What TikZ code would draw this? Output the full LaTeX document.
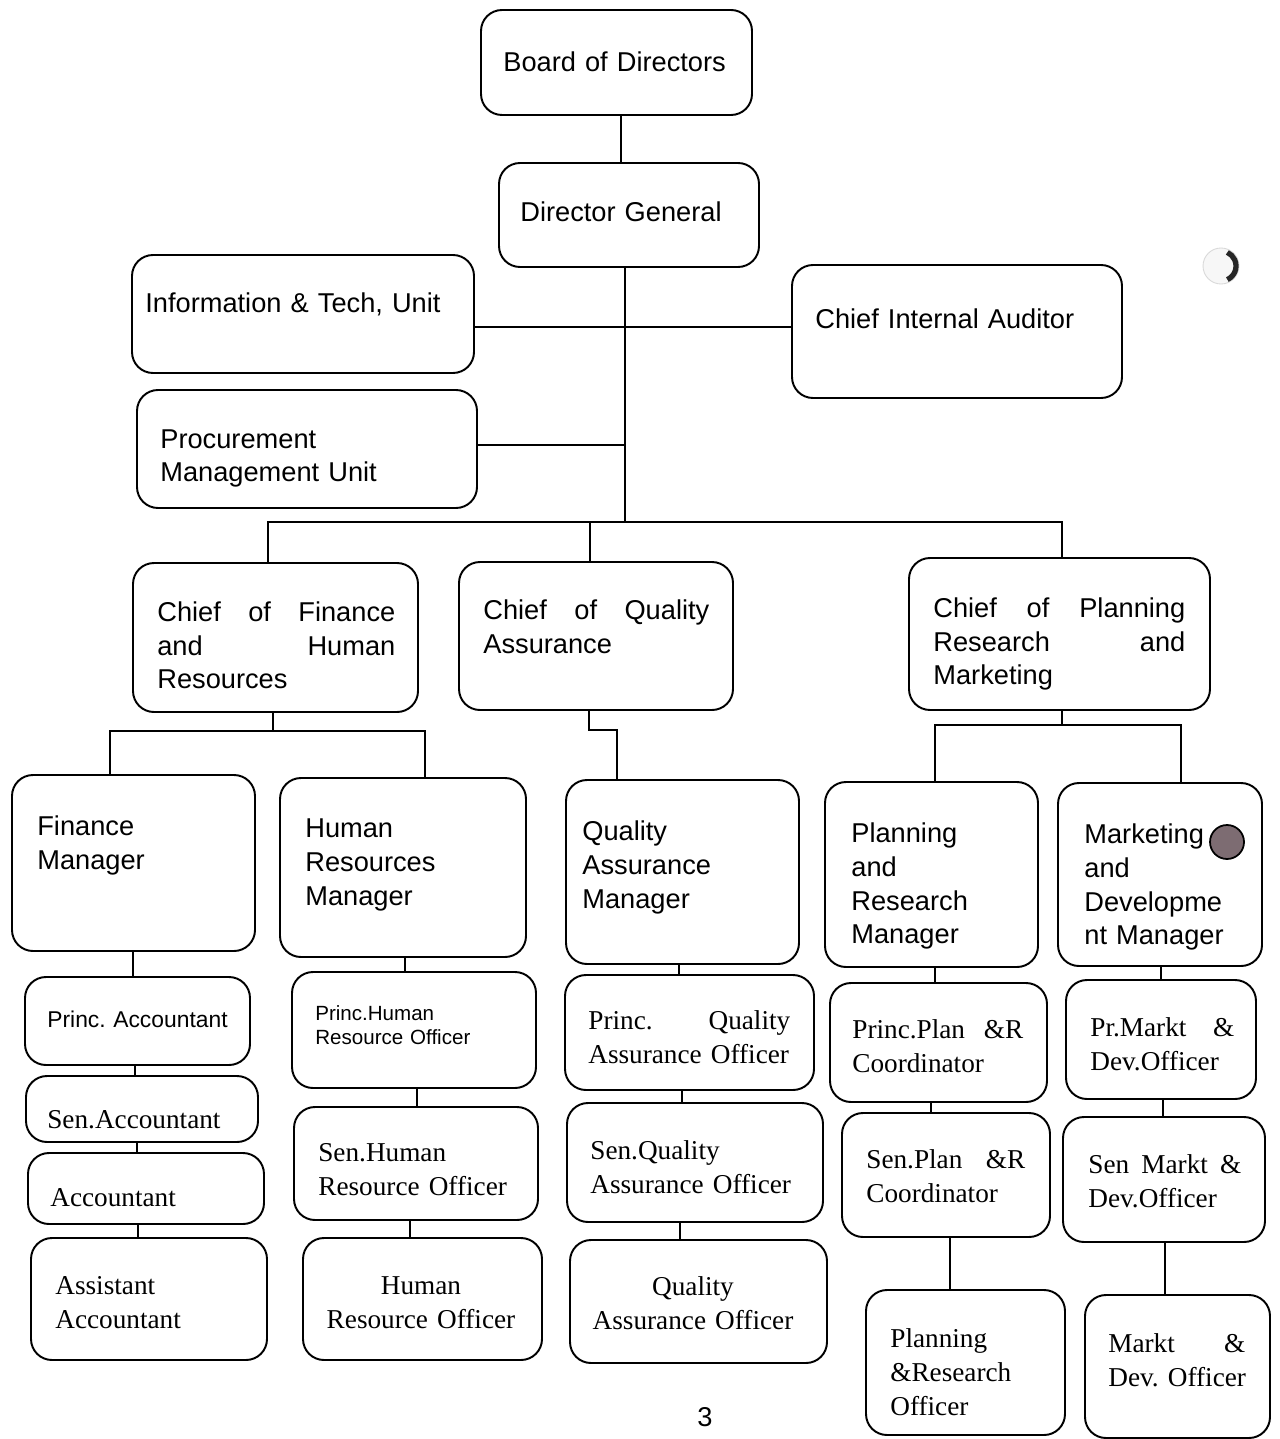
\documentclass[tikz,border=0pt]{standalone}
\usepackage{fontspec}
\setmainfont{Liberation Serif}
\setsansfont{Liberation Sans}
\usetikzlibrary{fit}
\newcommand\jst[2]{\leavevmode\hbox to #1{#2}}
\frenchspacing
\begin{document}
\frenchspacing
\begin{tikzpicture}[x=0.02cm,y=-0.02cm,
  box/.style={draw, line width=1.1pt, rounded corners=0.42cm, inner sep=0pt},
  con/.style={line width=1.1pt},
  sfl/.style={font=\sffamily\fontsize{15.5}{19.35}\selectfont, inner sep=0pt, anchor=base west, align=left, text width=6cm},
  rml/.style={font=\rmfamily\fontsize{15.5}{19.35}\selectfont, inner sep=0pt, anchor=base west, align=left, text width=6cm},
  sfs/.style={font=\sffamily\fontsize{11.7}{14.2}\selectfont, inner sep=0pt, anchor=base west, align=left, text width=6cm},
  sfm/.style={font=\sffamily\fontsize{13}{16}\selectfont, inner sep=0pt, anchor=base west, align=left, text width=6cm},
]
\useasboundingbox[fill=white] (0,0) rectangle (1279,1439);

% ---------- boxes ----------
\node[box, fit={(481,10) (752,115)}] (bod) {};
\node[box, fit={(499,163) (759,267)}] (dg) {};
\node[box, fit={(132,255) (474,373)}] (itu) {};
\node[box, fit={(792,265) (1122,398)}] (cia) {};
\node[box, fit={(137,390) (477,508)}] (pmu) {};
\node[box, fit={(133,563) (418,712)}] (cfhr) {};
\node[box, fit={(459,562) (733,710)}] (cqa) {};
\node[box, fit={(909,558) (1210,710)}] (cprm) {};
\node[box, fit={(12,775) (255,951)}] (fm) {};
\node[box, fit={(280,778) (526,957)}] (hrm) {};
\node[box, fit={(566,780) (799,964)}] (qam) {};
\node[box, fit={(825,782) (1038,967)}] (prm) {};
\node[box, fit={(1058,783) (1262,966)}] (mdm) {};
% finance column
\node[box, fit={(25,977) (250,1065)}] (pa) {};
\node[box, fit={(26,1076) (258,1142)}] (sa) {};
\node[box, fit={(28,1153) (264,1224)}] (acc) {};
\node[box, fit={(31,1238) (267,1360)}] (aa) {};
% HR column
\node[box, fit={(292,972) (536,1088)}] (phro) {};
\node[box, fit={(294,1107) (538,1220)}] (shro) {};
\node[box, fit={(303,1238) (542,1360)}] (hro) {};
% QA column
\node[box, fit={(565,975) (814,1090)}] (pqao) {};
\node[box, fit={(567,1103) (823,1222)}] (sqao) {};
\node[box, fit={(570,1240) (827,1363)}] (qao) {};
% Planning column
\node[box, fit={(830,983) (1047,1102)}] (ppc) {};
\node[box, fit={(842,1113) (1050,1237)}] (spc) {};
\node[box, fit={(866,1290) (1065,1435)}] (pro) {};
% Marketing column
\node[box, fit={(1066,980) (1256,1099)}] (pmdo) {};
\node[box, fit={(1063,1117) (1265,1242)}] (smdo) {};
\node[box, fit={(1085,1295) (1270,1438)}] (mdo) {};

% ---------- texts ----------
\node[sfl] (tbod) at (503,72) {Board of Directors};
\node[sfl] (tdg) at (520,222) {Director General};
\node[sfl] (titu) at (145,313) {Information \& Tech, Unit};
\node[sfl] (tcia) at (815,328) {Chief Internal Auditor};
\node[sfl] (tpmu) at (160,448) {Procurement\\Management Unit};
\node[sfl] (tcfhr) at (157,621) {\jst{4.76cm}{Chief\hfill of\hfill Finance}\\\jst{4.76cm}{and\hfill Human}\\Resources};
\node[sfl] (tcqa) at (483,619) {\jst{4.52cm}{Chief\hfill of\hfill Quality}\\Assurance};
\node[sfl] (tcprm) at (933,617) {\jst{5.04cm}{Chief\hfill of\hfill Planning}\\\jst{5.04cm}{Research\hfill and}\\Marketing};
\node[sfl] (tfm) at (37,835) {Finance\\Manager};
\node[sfl] (thrm) at (305,837) {Human\\Resources\\Manager};
\node[sfl] (tqam) at (582,840) {Quality\\Assurance\\Manager};
\node[sfl] (tprm) at (851,842) {Planning\\and\\Research\\Manager};
\node[sfl] (tmdm) at (1084,843) {Marketing\\and\\Developme\\nt Manager};

\node[sfm] (tpa) at (47,1027) {Princ. Accountant};
\node[rml] (tsa) at (47,1128) {Sen.Accountant};
\node[rml] (tacc) at (50,1206) {Accountant};
\node[rml] (taa) at (55,1294) {Assistant\\Accountant};

\node[sfs] (tphro) at (315,1020) {Princ.Human\\Resource Officer};
\node[rml] (tshro) at (318,1161) {Sen.Human\\Resource Officer};
\node[rml, anchor=base, align=center, text width=5cm] (thro) at (421,1294) {Human\\Resource Officer};

\node[rml] (tpqao) at (588,1029) {\jst{4.04cm}{Princ.\hfill Quality}\\Assurance Officer};
\node[rml] (tsqao) at (590,1159) {Sen.Quality\\Assurance Officer};
\node[rml, anchor=base, align=center, text width=5cm] (tqao) at (693,1295) {Quality\\Assurance Officer};

\node[rml] (tppc) at (852,1038) {\jst{3.42cm}{Princ.Plan\hfill \&R}\\Coordinator};
\node[rml] (tspc) at (866,1168) {\jst{3.18cm}{Sen.Plan\hfill \&R}\\Coordinator};
\node[rml] (tpro) at (890,1347) {Planning\\\&Research\\Officer};

\node[rml] (tpmdo) at (1090,1036) {\jst{2.88cm}{Pr.Markt\hfill \&}\\Dev.Officer};
\node[rml] (tsmdo) at (1088,1173) {\jst{3.06cm}{Sen\hfill Markt\hfill \&}\\Dev.Officer};
\node[rml] (tmdo) at (1108,1352) {\jst{2.74cm}{Markt\hfill \&}\\Dev. Officer};

\node[font=\sffamily\fontsize{15.5}{19}\selectfont, inner sep=0pt, anchor=base] (page) at (705,1426) {3};

% ---------- connectors ----------
\draw[con] (bod.south -| 621,0) -- (dg.north -| 621,0);
\draw[con] (dg.south -| 625,0) -- (625,522);
\draw[con] (itu.east |- 0,327) -- (cia.west |- 0,327);
\draw[con] (pmu.east |- 0,445) -- (625,445);
\draw[con] (cfhr.north -| 268,0) -- (268,522) -- (1062,522) -- (cprm.north -| 1062,0);
\draw[con] (590,522) -- (cqa.north -| 590,0);
\draw[con] (cfhr.south -| 273,0) -- (273,731);
\draw[con] (fm.north -| 110,0) -- (110,731) -- (425,731) -- (hrm.north -| 425,0);
\draw[con] (cqa.south -| 589,0) -- (589,730) -- (617,730) -- (qam.north -| 617,0);
\draw[con] (cprm.south -| 1062,0) -- (1062,725);
\draw[con] (prm.north -| 935,0) -- (935,725) -- (1181,725) -- (mdm.north -| 1181,0);

\draw[con] (fm.south -| 133,0) -- (pa.north -| 133,0);
\draw[con] (pa.south -| 135,0) -- (sa.north -| 135,0);
\draw[con] (sa.south -| 137,0) -- (acc.north -| 137,0);
\draw[con] (acc.south -| 138,0) -- (aa.north -| 138,0);

\draw[con] (hrm.south -| 405,0) -- (phro.north -| 405,0);
\draw[con] (phro.south -| 417,0) -- (shro.north -| 417,0);
\draw[con] (shro.south -| 410,0) -- (hro.north -| 410,0);

\draw[con] (qam.south -| 679,0) -- (pqao.north -| 679,0);
\draw[con] (pqao.south -| 682,0) -- (sqao.north -| 682,0);
\draw[con] (sqao.south -| 680,0) -- (qao.north -| 680,0);

\draw[con] (prm.south -| 935,0) -- (ppc.north -| 935,0);
\draw[con] (ppc.south -| 931,0) -- (spc.north -| 931,0);
\draw[con] (spc.south -| 950,0) -- (pro.north -| 950,0);

\draw[con] (mdm.south -| 1161,0) -- (pmdo.north -| 1161,0);
\draw[con] (pmdo.south -| 1163,0) -- (smdo.north -| 1163,0);
\draw[con] (smdo.south -| 1165,0) -- (mdo.north -| 1165,0);

% ---------- marks ----------
\fill[fill={rgb,255:red,125;green,108;blue,114}, draw=black, line width=1pt] (1227,842) circle[radius=17];
\fill[fill=gray!6, draw=gray!30, line width=0.5pt] (1221,266) circle[radius=18];
\draw[line width=3pt, black!85] (1221,266) ++(65:15) arc[start angle=65, end angle=-65, radius=15];
\end{tikzpicture}
\end{document}
